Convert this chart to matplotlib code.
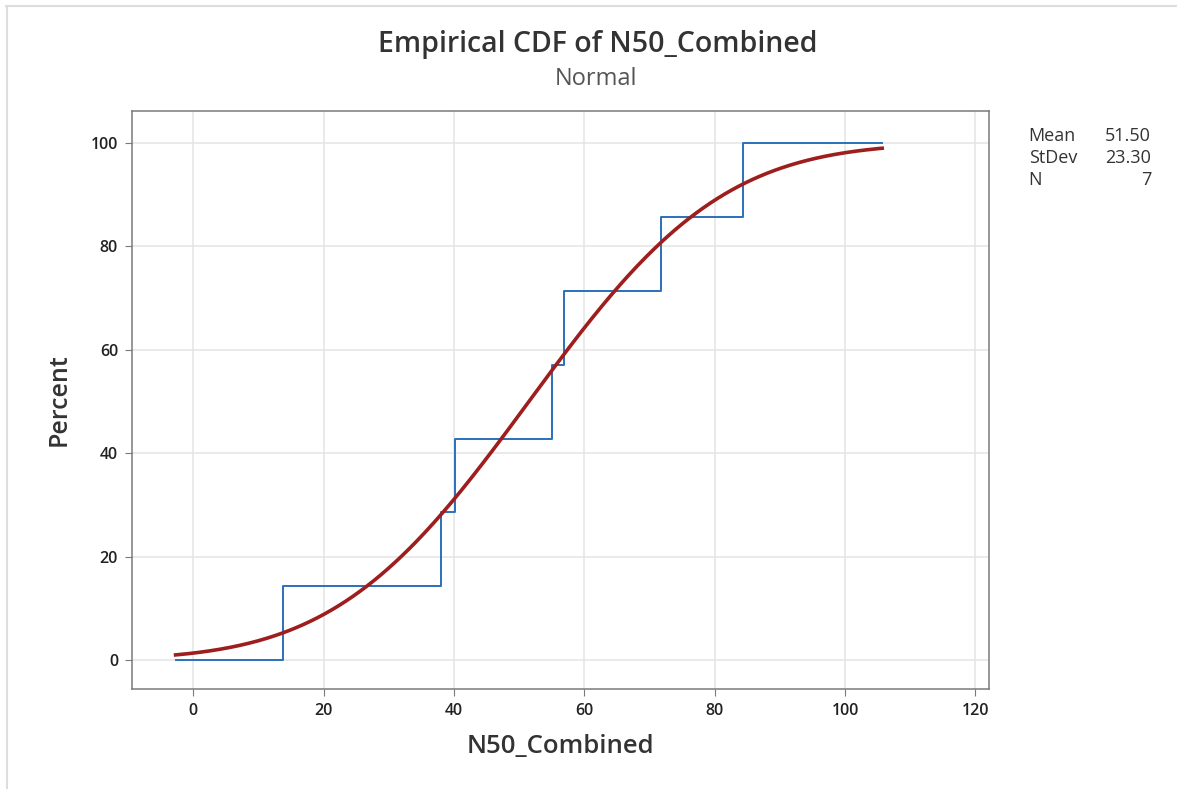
import numpy as np
import matplotlib.pyplot as plt
from matplotlib.lines import Line2D
from math import erf

# N50_Combined observations (sorted)
n50 = [13.8, 38.0, 40.2, 55.1, 56.9, 71.8, 84.4]
mean = 51.50
stdev = 23.30
stat_names = ['Mean', 'StDev', 'N']
stat_values = ['%.2f' % mean, '%.2f' % stdev, str(len(n50))]
xticks = [0, 20, 40, 60, 80, 100, 120]
yticks = [0, 20, 40, 60, 80, 100]

plt.rcParams['font.family'] = ['Open Sans', 'DejaVu Sans']

# plotted range runs from the 1st to the 99th percentile of the fitted normal
z99 = 2.3263
lo, hi = mean - z99 * stdev, mean + z99 * stdev

def norm_cdf(x):
    return np.array([0.5 * (1 + erf((v - mean) / (stdev * np.sqrt(2)))) for v in x])

xs = np.concatenate([[lo], n50, [hi]])
ys = np.concatenate([[0], np.arange(1, len(n50) + 1) / len(n50) * 100, [100]])

fig = plt.figure(figsize=(11.77, 7.89), dpi=100)
ax = fig.add_axes([0.1121, 0.1267, 0.7282, 0.7326])

ax.step(xs, ys, where='post', color='#2b70b8', lw=1.4, zorder=3)
xc = np.linspace(lo, hi, 400)
ax.plot(xc, norm_cdf(xc) * 100, color='#9e1d1d', lw=2.6, zorder=4)

ax.set_xlim(-9.4, 122.1)
ax.set_ylim(-5.6, 106.2)
ax.set_xticks(xticks)
ax.set_yticks(yticks)
ax.grid(True, color='#e4e4e4', lw=1.1)
ax.set_axisbelow(True)
for s in ax.spines.values():
    s.set_color('#7a7a7a')
    s.set_linewidth(1.1)
ax.tick_params(axis='both', direction='out', length=5, color='#7a7a7a',
               labelsize=11.5, labelcolor='#222222', pad=5)
for lab in ax.get_xticklabels() + ax.get_yticklabels():
    lab.set_fontweight('semibold')

ax.set_xlabel('N50_Combined', fontsize=18.5, fontweight='semibold', color='#333333', labelpad=11)
ax.set_ylabel('Percent', fontsize=18, fontweight='semibold', color='#333333', labelpad=14)

fig.text(0.508, 0.943, 'Empirical CDF of N50_Combined', ha='center', va='center',
         fontsize=20.5, fontweight='semibold', color='#333333')
fig.text(0.506, 0.900, 'Normal', ha='center', va='center',
         fontsize=17, color='#555555')

for i, (name, val) in enumerate(zip(stat_names, stat_values)):
    yy = 0.828 - i * 0.028
    fig.text(0.874, yy, name, ha='left', va='center', fontsize=13, color='#333333')
    fig.text(0.978, yy, val, ha='right', va='center', fontsize=13, color='#333333')

# thin frame along the top and left edges
fig.add_artist(Line2D([0.005, 1.0], [0.993, 0.993], transform=fig.transFigure,
                      color='#dddddd', lw=1.5))
fig.add_artist(Line2D([0.0058, 0.0058], [0.0, 0.993], transform=fig.transFigure,
                      color='#dddddd', lw=1.5))

fig.savefig('out.png', dpi=100)
